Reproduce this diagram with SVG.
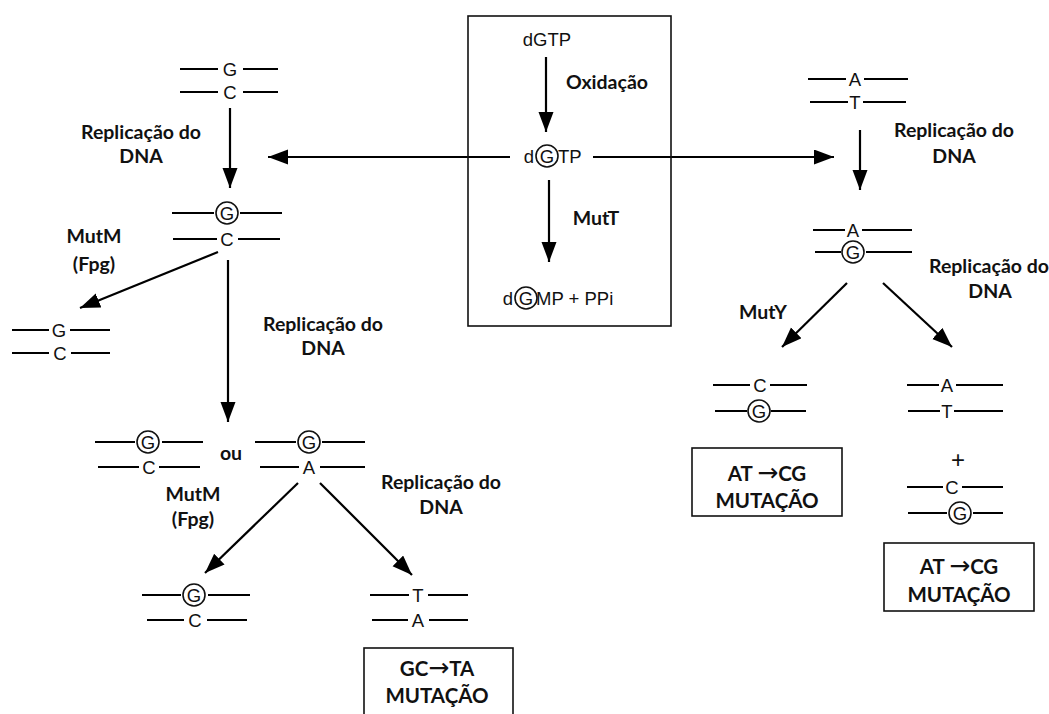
<svg xmlns="http://www.w3.org/2000/svg" width="1049" height="714" viewBox="0 0 1049 714">
<style>
.s{stroke:#000;stroke-width:2;fill:none}
.b{font-family:Lato,"Liberation Sans",sans-serif;font-weight:bold;font-size:19.5px;fill:#111;text-anchor:middle}
.m{font-family:Lato,"Liberation Sans",sans-serif;font-weight:bold;font-size:20.5px;fill:#111;text-anchor:middle}
.ar{font-family:"DejaVu Sans",sans-serif;font-weight:normal;font-size:25px}
.l{font-family:"Liberation Sans",Arial,sans-serif;font-size:18.5px;fill:#111;text-anchor:middle}
.st{text-anchor:start}
.c{stroke:#111;stroke-width:1.6;fill:none}
.a{stroke:#000;stroke-width:2.2;fill:none;marker-end:url(#ah)}
.box{stroke:#111;stroke-width:1.6;fill:none}
</style>
<defs>
<marker id="ah" markerUnits="userSpaceOnUse" markerWidth="22" markerHeight="16" refX="20" refY="7.5" orient="auto"><path d="M0,0 L20,7.5 L0,15 z" fill="#000"/></marker>
</defs>
<rect width="1049" height="714" fill="#fff"/>

<g id="connectors">
<line class="a" x1="546" y1="57" x2="546" y2="132"/>
<line class="a" x1="549" y1="180" x2="549" y2="262"/>
<line class="a" x1="510" y1="157" x2="268" y2="157"/>
<line class="a" x1="593" y1="157" x2="834" y2="157"/>
<line class="a" x1="230" y1="108" x2="230" y2="188"/>
<line class="a" x1="218" y1="252" x2="80" y2="308"/>
<line class="a" x1="228" y1="260" x2="228" y2="422"/>
<line class="a" x1="298" y1="483" x2="205" y2="573"/>
<line class="a" x1="320" y1="483" x2="412" y2="575"/>
<line class="a" x1="860" y1="130" x2="860" y2="190"/>
<line class="a" x1="847" y1="283" x2="782" y2="347"/>
<line class="a" x1="883" y1="283" x2="952" y2="347"/>
</g>

<g id="central">
<rect class="box" x="468" y="16" width="203" height="310"/>
<text class="l" x="547" y="46">dGTP</text>
<text class="b" x="607" y="89">Oxidação</text>
<text class="l" x="529" y="163">d</text>
<circle class="c" cx="547" cy="156" r="11"/>
<text class="l" x="547" y="163">G</text>
<text class="l st" x="558" y="163">TP</text>
<text class="b" x="596" y="225">MutT</text>
<text class="l" x="508" y="305">d</text>
<circle class="c" cx="526" cy="298" r="11"/>
<text class="l" x="526" y="305">G</text>
<text class="l st" x="536" y="305">MP + PPi</text>
</g>

<g id="left-GC-top">
<path class="s" d="M180,69H218M243,69H278M180,92H218M243,92H278"/>
<text class="l" x="230" y="76">G</text>
<text class="l" x="230" y="99">C</text>
</g>
<g id="lbl-rep1"><text class="b" x="141" y="139">Replicação do</text><text class="b" x="141" y="163">DNA</text></g>

<g id="left-oG-C">
<path class="s" d="M172,213H214M240,213H282M173,239H217M238,239H280"/>
<circle class="c" cx="227" cy="213" r="11"/>
<text class="l" x="227" y="220">G</text>
<text class="l" x="227" y="246">C</text>
</g>
<g id="lbl-mutm1"><text class="b" x="94" y="243">MutM</text><text class="b" x="94" y="271">(Fpg)</text></g>

<g id="left-GC-repaired">
<path class="s" d="M12,330H49M70,330H110M12,353H49M71,353H110"/>
<text class="l" x="59" y="337">G</text>
<text class="l" x="60" y="360">C</text>
</g>
<g id="lbl-rep2"><text class="b" x="323" y="331">Replicação do</text><text class="b" x="323" y="355">DNA</text></g>

<g id="pair-oG-C">
<path class="s" d="M95,442H135M162,442H203M98,467H139M159,467H200"/>
<circle class="c" cx="148" cy="442" r="11"/>
<text class="l" x="148" y="449">G</text>
<text class="l" x="149" y="474">C</text>
</g>
<g id="lbl-ou"><text class="b" x="231" y="460">ou</text></g>
<g id="pair-oG-A">
<path class="s" d="M255,442H296M322,442H365M260,467H299M320,467H365"/>
<circle class="c" cx="309" cy="442" r="11"/>
<text class="l" x="309" y="449">G</text>
<text class="l" x="309" y="474">A</text>
</g>
<g id="lbl-mutm2"><text class="b" x="193" y="501">MutM</text><text class="b" x="193" y="526">(Fpg)</text></g>
<g id="lbl-rep3"><text class="b" x="441" y="489">Replicação do</text><text class="b" x="441" y="514">DNA</text></g>

<g id="pair-oG-C-bottom">
<path class="s" d="M142,595H181M208,595H250M147,620H184M207,620H247"/>
<circle class="c" cx="194" cy="595" r="11"/>
<text class="l" x="194" y="602">G</text>
<text class="l" x="195" y="627">C</text>
</g>
<g id="pair-TA">
<path class="s" d="M370,595H409M428,595H468M372,620H408M429,620H468"/>
<text class="l" x="418" y="602">T</text>
<text class="l" x="418" y="627">A</text>
</g>
<g id="box-GCTA">
<rect class="box" x="364" y="648" width="149" height="68"/>
<text class="m" x="437" y="676">GC<tspan class="ar">→</tspan>TA</text>
<text class="m" x="437" y="703">MUTAÇÃO</text>
</g>

<g id="right-AT-top">
<path class="s" d="M808,79H846M864,79H908M810,102H848M863,102H906"/>
<text class="l" x="855" y="86">A</text>
<text class="l" x="855" y="109">T</text>
</g>
<g id="lbl-rep4"><text class="b" x="954" y="137">Replicação do</text><text class="b" x="954" y="163">DNA</text></g>
<g id="right-A-oG">
<path class="s" d="M813,230H845M862,230H912M815,252H841M866,252H912"/>
<text class="l" x="853" y="237">A</text>
<circle class="c" cx="853" cy="252" r="11"/>
<text class="l" x="853" y="259">G</text>
</g>
<g id="lbl-rep5"><text class="b" x="989" y="273">Replicação do</text><text class="b" x="990" y="298">DNA</text></g>
<g id="lbl-muty"><text class="b" x="763" y="319">MutY</text></g>

<g id="right-C-oG">
<path class="s" d="M713,385H750M770,385H807M715,411H747M771,411H806"/>
<text class="l" x="760" y="392">C</text>
<circle class="c" cx="759" cy="411" r="11"/>
<text class="l" x="759" y="418">G</text>
</g>
<g id="box-ATCG-1">
<rect class="box" x="692" y="448" width="150" height="68"/>
<text class="m" x="767" y="481">AT <tspan class="ar">→</tspan>CG</text>
<text class="m" x="767" y="508">MUTAÇÃO</text>
</g>

<g id="right-AT-bottom">
<path class="s" d="M907,385H939M956,385H1003M908,411H940M954,411H1003"/>
<text class="l" x="947" y="392">A</text>
<text class="l" x="947" y="418">T</text>
</g>
<g id="plus"><text class="l" x="958" y="468" style="font-size:24px">+</text></g>
<g id="right-C-oG-2">
<path class="s" d="M907,487H943M962,487H1003M908,513H947M973,513H1003"/>
<text class="l" x="952" y="494">C</text>
<circle class="c" cx="960" cy="513" r="11"/>
<text class="l" x="960" y="520">G</text>
</g>
<g id="box-ATCG-2">
<rect class="box" x="884" y="543" width="150" height="68"/>
<text class="m" x="959" y="574">AT <tspan class="ar">→</tspan>CG</text>
<text class="m" x="959" y="602">MUTAÇÃO</text>
</g>
</svg>
